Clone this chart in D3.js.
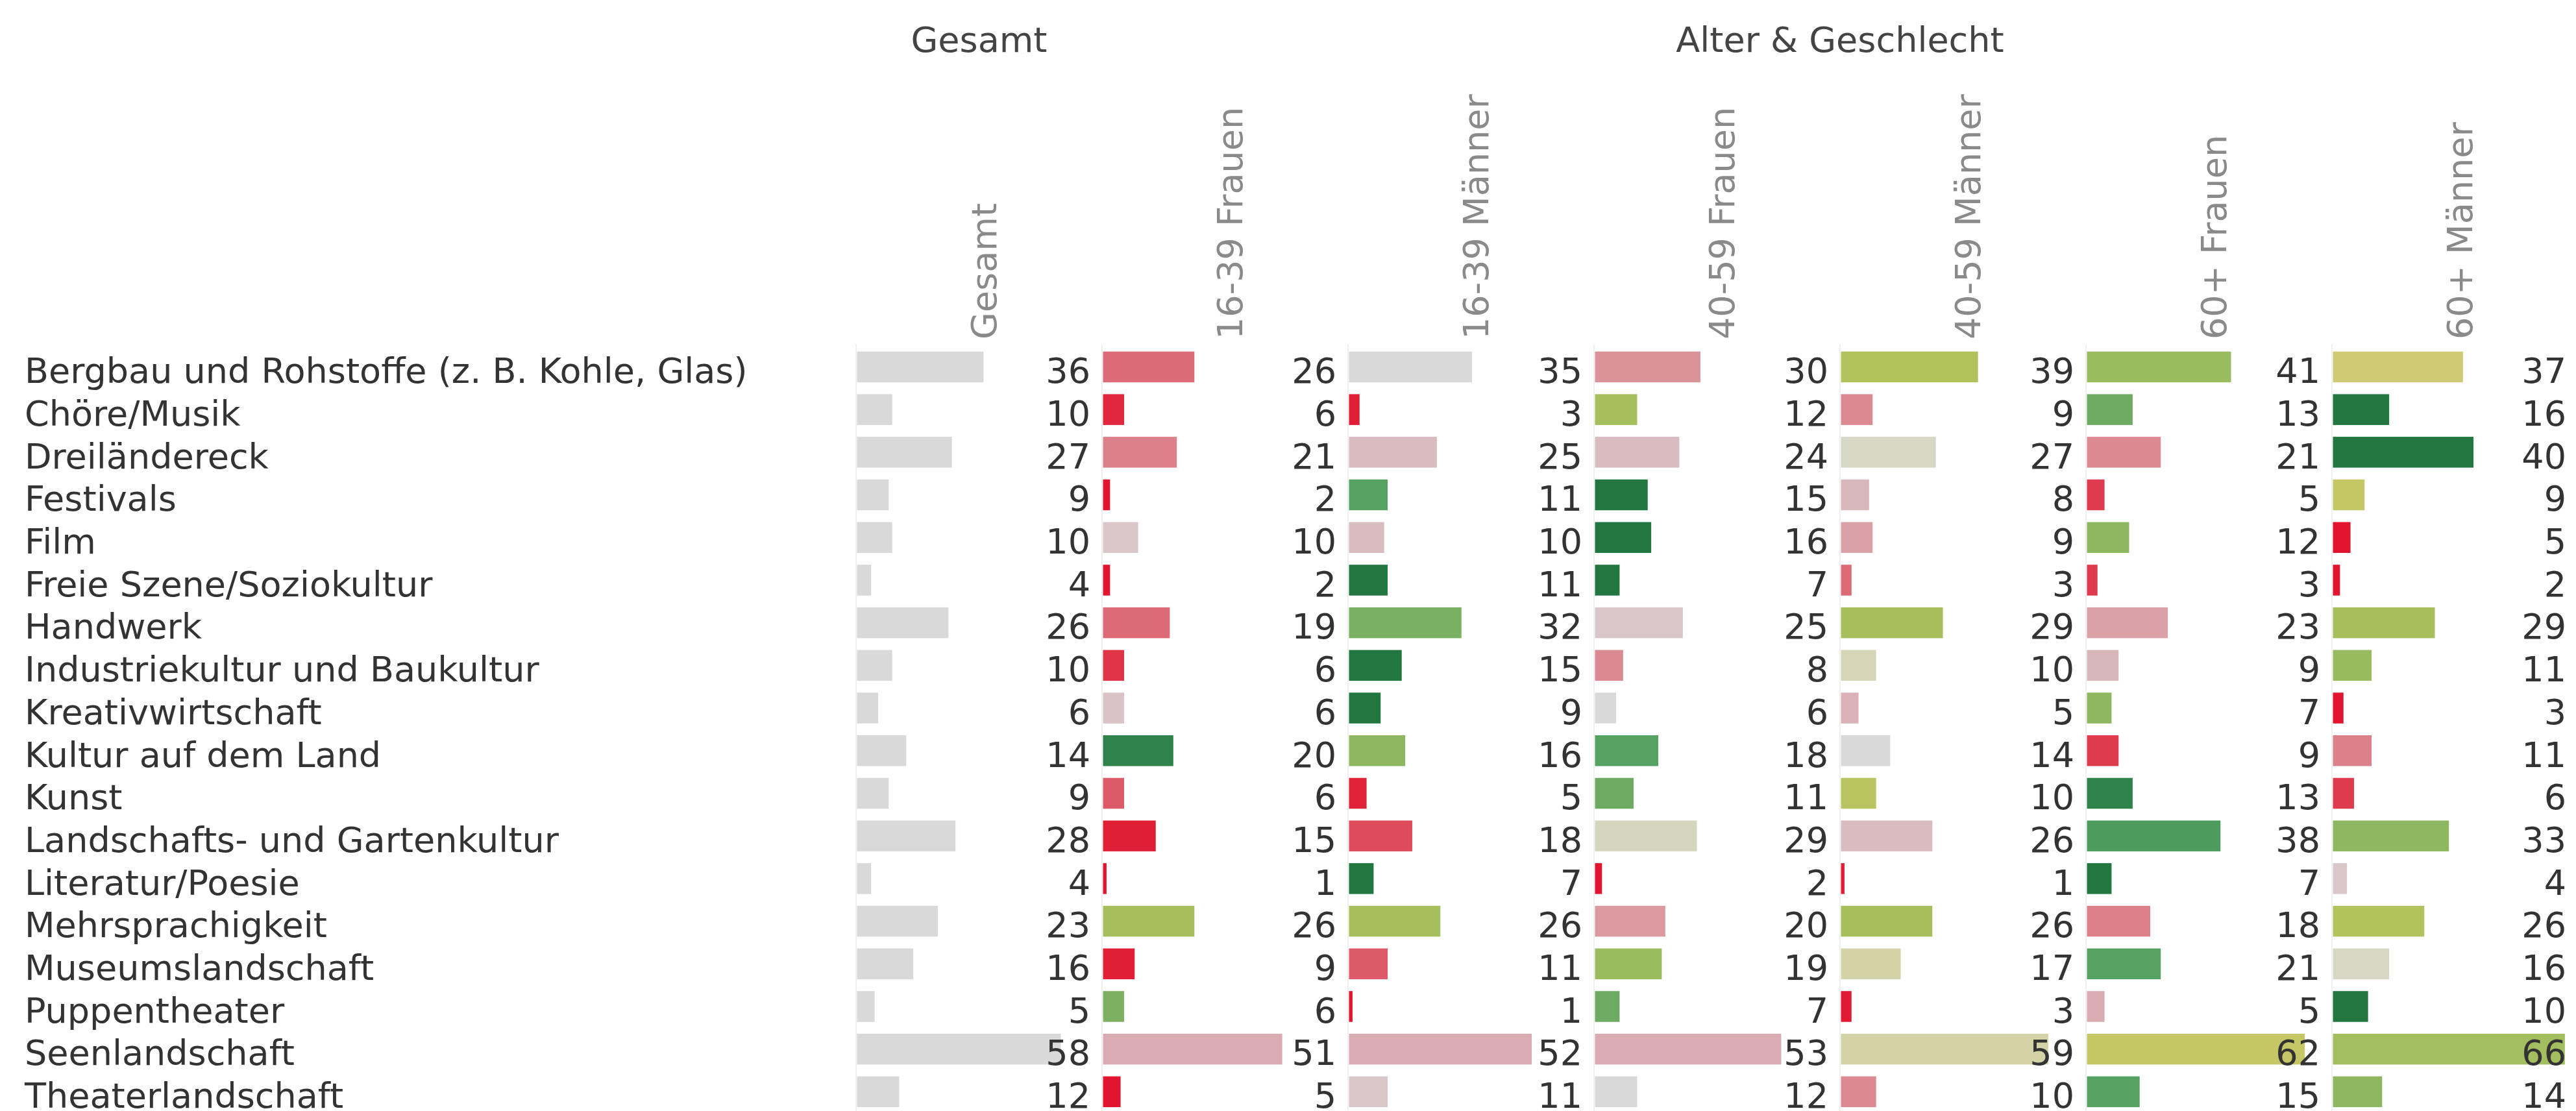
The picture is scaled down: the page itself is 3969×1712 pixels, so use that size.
<!DOCTYPE html>
<html>
<head>
<meta charset="utf-8">
<script src="https://cdn.jsdelivr.net/npm/d3@7"></script>
<style>
  body { margin: 0; background: #fff; }
  text { font-family: "DejaVu Sans", "Open Sans", sans-serif; }
</style>
</head>
<body>
<svg id="chart"></svg>
<script>
// ── Data ───────────────────────────────────────────────────────────────────
const themes = [
  "Bergbau und Rohstoffe (z. B. Kohle, Glas)", "Chöre/Musik", "Dreiländereck",
  "Festivals", "Film", "Freie Szene/Soziokultur", "Handwerk",
  "Industriekultur und Baukultur", "Kreativwirtschaft", "Kultur auf dem Land",
  "Kunst", "Landschafts- und Gartenkultur", "Literatur/Poesie",
  "Mehrsprachigkeit", "Museumslandschaft", "Puppentheater", "Seenlandschaft",
  "Theaterlandschaft"
];

const segments = ["Gesamt", "16-39 Frauen", "16-39 Männer", "40-59 Frauen",
                  "40-59 Männer", "60+ Frauen", "60+ Männer"];

// share in % per theme
const gesamt  = [36, 10, 27, 9, 10, 4, 26, 10, 6, 14, 9, 28, 4, 23, 16, 5, 58, 12];
const f16_39  = [26, 6, 21, 2, 10, 2, 19, 6, 6, 20, 6, 15, 1, 26, 9, 6, 51, 5];
const m16_39  = [35, 3, 25, 11, 10, 11, 32, 15, 9, 16, 5, 18, 7, 26, 11, 1, 52, 11];
const f40_59  = [30, 12, 24, 15, 16, 7, 25, 8, 6, 18, 11, 29, 2, 20, 19, 7, 53, 12];
const m40_59  = [39, 9, 27, 8, 9, 3, 29, 10, 5, 14, 10, 26, 1, 26, 17, 3, 59, 10];
const f60     = [41, 13, 21, 5, 12, 3, 23, 9, 7, 9, 13, 38, 7, 18, 21, 5, 62, 15];
const m60     = [37, 16, 40, 9, 5, 2, 29, 11, 3, 11, 6, 33, 4, 26, 16, 10, 66, 14];

// deviation index of each segment (-1 = far below, +1 = far above), drives colour
const devF16_39 = [-0.62, -0.93, -0.5, -1, -0.13, -1, -0.62, -0.88, -0.15, 0.95, -0.7, -0.96, -1, 0.5, -0.96, 0.67, -0.28, -1];
const devM16_39 = [0, -0.97, -0.2, 0.8, -0.2, 1, 0.68, 1, 1, 0.62, -0.95, -0.78, 1, 0.5, -0.7, -1, -0.28, -0.13];
const devF40_59 = [-0.4, 0.5, -0.2, 1, 1, 1, -0.13, -0.45, 0, 0.8, 0.72, 0.1, -1, -0.37, 0.56, 0.72, -0.28, 0];
const devM40_59 = [0.44, -0.45, 0.07, -0.22, -0.33, -0.62, 0.5, 0.12, -0.25, 0, 0.4, -0.2, -0.96, 0.5, 0.17, -0.98, 0.17, -0.45];
const devF60    = [0.56, 0.72, -0.45, -0.85, 0.62, -0.85, -0.33, -0.23, 0.62, -0.85, 0.95, 0.83, 1, -0.5, 0.8, -0.28, 0.35, 0.8];
const devM60    = [0.28, 1, 1, 0.35, -1, -1, 0.5, 0.57, -1, -0.5, -0.85, 0.62, -0.13, 0.44, 0.07, 1, 0.52, 0.62];

const values = [gesamt, f16_39, m16_39, f40_59, m40_59, f60, m60];
const devs   = [null, devF16_39, devM16_39, devF40_59, devM40_59, devF60, devM60];

// ── Layout ────────────────────────────────────────────────────────────────
const W = 3969, H = 1712;
const panelLeft = 1319, panelW = 379;
const rowTop = 532.6, rowStep = 65.7;
const fontSize = 54;

const svg = d3.select("#chart")
    .attr("width", W)
    .attr("height", H);

svg.append("rect").attr("width", W).attr("height", H).attr("fill", "#fff");

const px = d3.scaleBand()
    .domain(segments)
    .range([panelLeft, panelLeft + panelW * segments.length]);

const y = d3.scaleBand()
    .domain(themes)
    .range([rowTop, rowTop + rowStep * themes.length])
    .paddingInner(0.277)
    .paddingOuter(0.1385);

const x = d3.scaleLinear().domain([0, 70]).range([0, panelW]);

const color = d3.scaleLinear()
    .domain([-1, -0.8, -0.6, -0.4, -0.2, 0, 0.15, 0.3, 0.45, 0.6, 0.8, 1])
    .range(["#e1152f", "#de4858", "#dc6e7a", "#db939a", "#d9bcc0", "#d9d9d9",
            "#d5d4b0", "#cfc96c", "#b0c25c", "#93b960", "#55a263", "#227740"])
    .clamp(true);

// ── Panel separators ──────────────────────────────────────────────────────
svg.append("g")
    .selectAll("line")
    .data(segments)
    .join("line")
    .attr("x1", d => px(d)).attr("x2", d => px(d))
    .attr("y1", rowTop - 2).attr("y2", H)
    .attr("stroke", "#f0f0f0")
    .attr("stroke-width", 2);

// ── Headers ───────────────────────────────────────────────────────────────
svg.append("text")
    .attr("x", px("Gesamt") + px.bandwidth() / 2)
    .attr("y", 80)
    .attr("text-anchor", "middle")
    .attr("font-size", fontSize)
    .attr("fill", "#444")
    .text("Gesamt");

svg.append("text")
    .attr("x", (px(segments[1]) + px(segments[6]) + px.bandwidth()) / 2)
    .attr("y", 80)
    .attr("text-anchor", "middle")
    .attr("font-size", fontSize)
    .attr("fill", "#444")
    .text("Alter & Geschlecht");

svg.append("g")
    .selectAll("text")
    .data(segments)
    .join("text")
    .attr("transform", d => `translate(${px(d) + px.bandwidth() / 2 + 26},523) rotate(-90)`)
    .attr("font-size", fontSize)
    .attr("fill", "#8a8a8a")
    .text(d => d);

// ── Row labels ────────────────────────────────────────────────────────────
svg.append("g")
    .selectAll("text")
    .data(themes)
    .join("text")
    .attr("x", 38)
    .attr("y", d => y(d) + y.bandwidth() + 1)
    .attr("font-size", fontSize)
    .attr("fill", "#333")
    .text(d => d);

// ── Bars + value labels per panel ─────────────────────────────────────────
segments.forEach((seg, si) => {
    const cells = themes.map((t, i) => ({
        theme: t,
        value: values[si][i],
        dev: devs[si] ? devs[si][i] : null
    }));

    const g = svg.append("g")
        .attr("transform", `translate(${px(seg) + 1.5},0)`);

    g.selectAll("rect")
        .data(cells)
        .join("rect")
        .attr("x", 0)
        .attr("y", d => y(d.theme))
        .attr("width", d => x(d.value))
        .attr("height", y.bandwidth())
        .attr("fill", d => d.dev === null ? "#d9d9d9" : color(d.dev));

    g.selectAll("text")
        .data(cells)
        .join("text")
        .attr("x", panelW - 19.5)
        .attr("y", d => y(d.theme) + y.bandwidth() + 1)
        .attr("text-anchor", "end")
        .attr("font-size", fontSize)
        .attr("fill", "#333")
        .text(d => d.value);
});
</script>
</body>
</html>
